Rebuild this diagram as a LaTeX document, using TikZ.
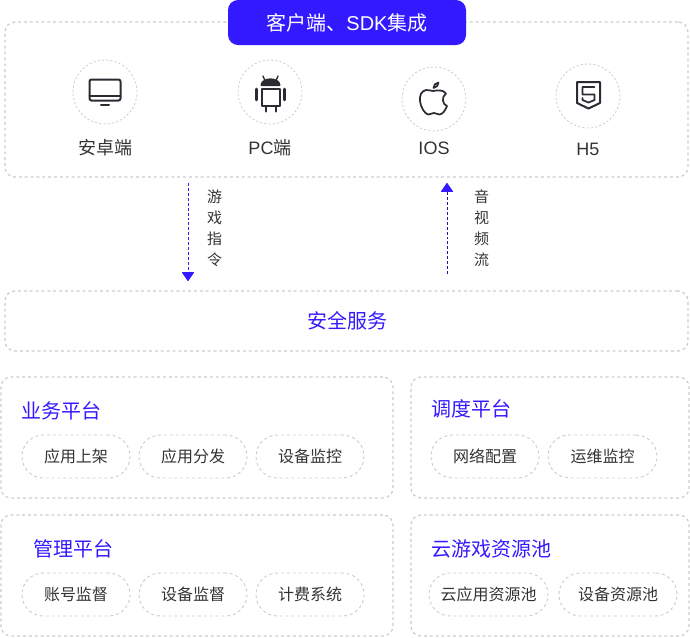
\documentclass[tikz,border=0pt]{standalone}
\usepackage{fontspec}
\setmainfont{Liberation Sans}
\newfontfamily\cjk{Noto Sans CJK SC}
\usetikzlibrary{arrows.meta}

\definecolor{brandblue}{HTML}{3319FF}
\definecolor{labelgray}{HTML}{333333}
\definecolor{dashgray}{HTML}{CCCCCC}
\definecolor{icongray}{HTML}{2B2B33}

\tikzset{
	panel/.style 2 args={draw=dashgray, dash pattern=on 2.2pt off 2.2pt, line width=0.9pt, rounded corners=7.5pt, inner sep=0pt, minimum width=#1*0.75pt, minimum height=#2*0.75pt},
	header/.style={fill=brandblue, text=white, rounded corners=7.5pt, inner sep=0pt, minimum width=178.5pt, minimum height=33.75pt, font=\cjk\fontsize{15}{18}\selectfont},
	iconring/.style={circle, draw=dashgray, dash pattern=on 1.6pt off 1.6pt, line width=0.6pt, inner sep=0pt, minimum size=48pt},
	pill/.style={draw=dashgray, dash pattern=on 2.2pt off 2.2pt, line width=0.7pt, rounded corners=16pt, inner sep=0pt, minimum width=#1*0.75pt, minimum height=32.25pt, text=labelgray, font=\cjk\fontsize{12}{14}\selectfont},
	caption/.style={text=labelgray, inner sep=0pt, font=\cjk\fontsize{13.5}{16}\selectfont},
	title/.style={text=brandblue, inner sep=0pt, font=\cjk\fontsize{15}{18}\selectfont},
	flowlabel/.style={text=labelgray, inner sep=0pt, align=center, font=\cjk\fontsize{11.25}{15.75}\selectfont},
	flow/.style={dash pattern=on 2.2pt off 1.5pt, line width=0.7pt},
	icon/.style={draw=icongray, line width=1.5pt, line join=round, line cap=round},
}

\begin{document}
\begin{tikzpicture}[x=0.75pt, y=-0.75pt, >={Triangle[length=7pt,width=9.5pt,round]}]
	\useasboundingbox (0,0) rectangle (690,637);

	% Panels
	\node [panel={683}{155}]	(client)	at (346.5,99.5)	{};
	\node [header]				(sdk)		at (347,22.5)	{客户端、{\fontspec{Liberation Sans}SDK}集成};
	\node [panel={683}{60}, text=brandblue, font=\cjk\fontsize{15}{18}\selectfont]	(security)	at (346.5,321)	{\hspace{1pt}安全服务};
	\node [panel={392}{121}]	(business)	at (197,437.5)	{};
	\node [panel={278}{121}]	(schedule)	at (550,437.5) {};
	\node [panel={392}{121}]	(manage)	at (197,575.5)	{};
	\node [panel={278}{121}]	(cloud)		at (550,575.5) {};

	% Icon rings and captions
	\node [iconring]	(desktop)	at (105,92)		{};
	\node [iconring]	(android)	at (270,92)		{};
	\node [iconring]	(apple)		at (434,99)		{};
	\node [iconring]	(html)		at (588,96)		{};
	\node [caption]		(desktoptxt)	at (105,148)	{安卓端};
	\node [caption]		(androidtxt)	at (270,148)	{{\fontspec{Liberation Sans}PC}端};
	\node [caption]		(appletxt)		at (434,148)	{{\fontspec{Liberation Sans}IOS}};
	\node [caption]		(htmltxt)		at (588,149)	{{\fontspec{Liberation Sans}H5}};

	% Titles
	\node [title, anchor=west]	(businesstxt)	at (21,411)		{业务平台};
	\node [title, anchor=west]	(scheduletxt)	at (431.5,409)	{调度平台};
	\node [title, anchor=west]	(managetxt)		at (33,549)		{管理平台};
	\node [title, anchor=west]	(cloudtxt)		at (431,549)	{云游戏资源池};

	% Pills
	\node [pill=108]	(shelf)		at (76,456.5)	{应用上架};
	\node [pill=108]	(dispatch)	at (193,456.5)	{应用分发};
	\node [pill=108]	(monitor)	at (310,456.5)	{设备监控};
	\node [pill=108]	(network)	at (485,456.5)	{网络配置};
	\node [pill=109]	(ops)		at (602.5,456.5) {运维监控};
	\node [pill=108]	(account)	at (76,594.5)	{账号监督};
	\node [pill=108]	(device)	at (193,594.5)	{设备监督};
	\node [pill=108]	(billing)	at (310,594.5)	{计费系统};
	\node [pill=119]	(apppool)	at (488.5,594.5) {云应用资源池};
	\node [pill=118]	(devpool)	at (618,594.5)	{设备资源池};

	% Flows
	\coordinate (cmdtop)	at (188,183);
	\coordinate (cmdend)	at (188,281);
	\coordinate (avtop)		at (447,183);
	\coordinate (avend)		at (447,274);
	\draw [flow, ->, draw=brandblue]	(cmdtop) -- (cmdend);
	\draw [flow, draw=brandblue!70!black, -{>[brandblue]}]	(avend) -- (avtop);
	\node [flowlabel]	(cmdtxt)	at (214.5,228.5)	{游\\戏\\指\\令};
	\node [flowlabel]	(avtxt)		at (481.5,228)	{音\\视\\频\\流};

	% Desktop icon
	\draw [icon, rounded corners=1.5pt] (89.5,79.5) rectangle (120.5,100.5);
	\draw [icon] (89.5,95.5) -- (120.5,95.5);
	\draw [icon] (101,104.5) -- (109,104.5);

	% Android icon
	\draw [icon] (261.5,88.5) rectangle (279.5,106);
	\draw [icon, fill=icongray] (261.5,85) .. controls (262,77.5) and (279,77.5) .. (279.5,85) -- cycle;
	\draw [icon, line width=1pt] (264.5,79.5) -- (263,76) (276.5,79.5) -- (278,76);
	\draw [icon, line width=2pt] (256.5,89) -- (256.5,100) (284.5,89) -- (284.5,100);
	\draw [icon] (265.5,106) -- (265.5,111.5) (275.5,106) -- (275.5,111.5);

	% Apple icon
	\draw [icon, line width=1.3pt] (433.5,91)
		.. controls (430,91) and (428.5,89.5) .. (426,90)
		.. controls (421,91) and (419.5,96) .. (420,101)
		.. controls (420.5,107) and (425,114.5) .. (428.5,114.5)
		.. controls (430.5,114.5) and (431.5,113) .. (434,113)
		.. controls (436.5,113) and (437,114.5) .. (439.5,114.5)
		.. controls (442.5,114.5) and (445.5,110) .. (447,106)
		.. controls (442.5,104.5) and (441,97) .. (446,93.5)
		.. controls (443,89.5) and (437,90) .. (433.5,91) -- cycle;
	\draw [icon, line width=1.3pt] (433.5,88) .. controls (433.5,85) and (435.5,83) .. (438.5,82.5)
		.. controls (438.5,85.5) and (436.5,87.5) .. (433.5,88) -- cycle;

	% HTML5 icon
	\draw [icon] (577,82) -- (600,82) -- (600,103) -- (588.5,108.5) -- (577,103) -- cycle;
	\draw [icon, line width=1.3pt] (594.5,87) -- (582.5,87) -- (582.5,94.5) -- (594.5,94.5) -- (594.5,100) -- (588.5,102.5) -- (582.5,100) -- (582.5,98);
\end{tikzpicture}
\end{document}
